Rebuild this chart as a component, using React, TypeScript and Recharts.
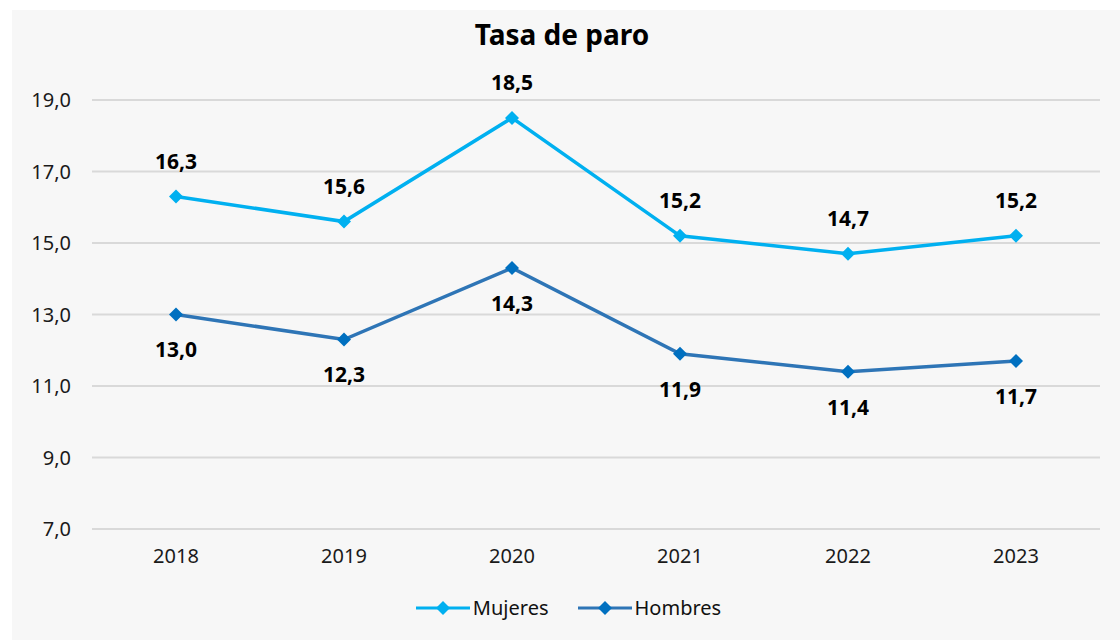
import { LineChart, Line, XAxis, YAxis, CartesianGrid, Legend, LabelList } from 'recharts';

const years = ['2018', '2019', '2020', '2021', '2022', '2023'];
const mujeres = [16.3, 15.6, 18.5, 15.2, 14.7, 15.2];
const hombres = [13.0, 12.3, 14.3, 11.9, 11.4, 11.7];
const yTicks = [7, 9, 11, 13, 15, 17, 19];

const FONT = '"Noto Sans", "Open Sans", sans-serif';
const MUJ_LINE = '#00b0f0';
const HOM_LINE = '#2e75b6';
const HOM_DOT = '#0070c0';

const fmt = (v: number) => Number(v).toFixed(1).replace('.', ',');

const chartData = years.map((year, i) => ({
  year,
  Mujeres: mujeres[i],
  Hombres: hombres[i],
}));

function Diamond({ cx, cy, fill }: { cx?: number; cy?: number; fill: string }) {
  if (cx == null || cy == null) return null;
  const r = 7;
  return <path d={`M${cx},${cy - r} L${cx + r},${cy} L${cx},${cy + r} L${cx - r},${cy} Z`} fill={fill} />;
}

function LegendContent() {
  const items = [
    { name: 'Mujeres', line: MUJ_LINE, dot: MUJ_LINE },
    { name: 'Hombres', line: HOM_LINE, dot: HOM_DOT },
  ];
  return (
    <div
      style={{
        display: 'flex',
        justifyContent: 'center',
        gap: 28,
        paddingLeft: 24,
        fontFamily: FONT,
        fontSize: 20,
        color: '#111',
      }}
    >
      {items.map((it) => (
        <div key={it.name} style={{ display: 'flex', alignItems: 'center', gap: 2 }}>
          <svg width={56} height={16}>
            <line x1={1} y1={8} x2={55} y2={8} stroke={it.line} strokeWidth={3} />
            <path d="M28,1 L35,8 L28,15 L21,8 Z" fill={it.dot} />
          </svg>
          <span>{it.name}</span>
        </div>
      ))}
    </div>
  );
}

export default function App() {
  return (
    <div style={{ position: 'absolute', left: 0, top: 0, width: 1120, height: 640, background: '#fff' }}>
      <div style={{ position: 'absolute', left: 12, top: 10, width: 1108, height: 630, background: '#f7f7f7' }}>
        <div
          style={{
            position: 'absolute',
            top: 5,
            left: 0,
            width: 1100,
            textAlign: 'center',
            fontFamily: FONT,
            fontWeight: 700,
            fontSize: 28,
            color: '#000',
          }}
        >
          Tasa de paro
        </div>
        <LineChart
          width={1108}
          height={630}
          data={chartData}
          margin={{ top: 90, right: 20, left: 0, bottom: 44 }}
          style={{ fontFamily: FONT, overflow: 'visible' }}
        >
          <CartesianGrid horizontal vertical={false} stroke="#d9d9d9" strokeWidth={2} />
          <XAxis
            dataKey="year"
            axisLine={false}
            tickLine={false}
            tickSize={0}
            tickMargin={20}
            height={40}
            padding={{ left: 84, right: 84 }}
            tick={{ fill: '#1a1a1a', fontSize: 20 }}
          />
          <YAxis
            domain={[7, 19]}
            ticks={yTicks}
            axisLine={false}
            tickLine={false}
            tickSize={0}
            tickMargin={21}
            width={80}
            tickFormatter={fmt}
            tick={{ fill: '#1a1a1a', fontSize: 20 }}
          />
          <Legend verticalAlign="bottom" align="center" content={<LegendContent />} wrapperStyle={{ top: 584 }} />
          <Line
            type="linear"
            dataKey="Mujeres"
            stroke={MUJ_LINE}
            strokeWidth={3.5}
            dot={<Diamond fill={MUJ_LINE} />}
            activeDot={false}
            isAnimationActive={false}
          >
            <LabelList dataKey="Mujeres" position="top" offset={28} formatter={fmt} fill="#000" fontSize={21} fontWeight={700} />
          </Line>
          <Line
            type="linear"
            dataKey="Hombres"
            stroke={HOM_LINE}
            strokeWidth={3.5}
            dot={<Diamond fill={HOM_DOT} />}
            activeDot={false}
            isAnimationActive={false}
          >
            <LabelList dataKey="Hombres" position="bottom" offset={28} formatter={fmt} fill="#000" fontSize={21} fontWeight={700} />
          </Line>
        </LineChart>
      </div>
    </div>
  );
}
